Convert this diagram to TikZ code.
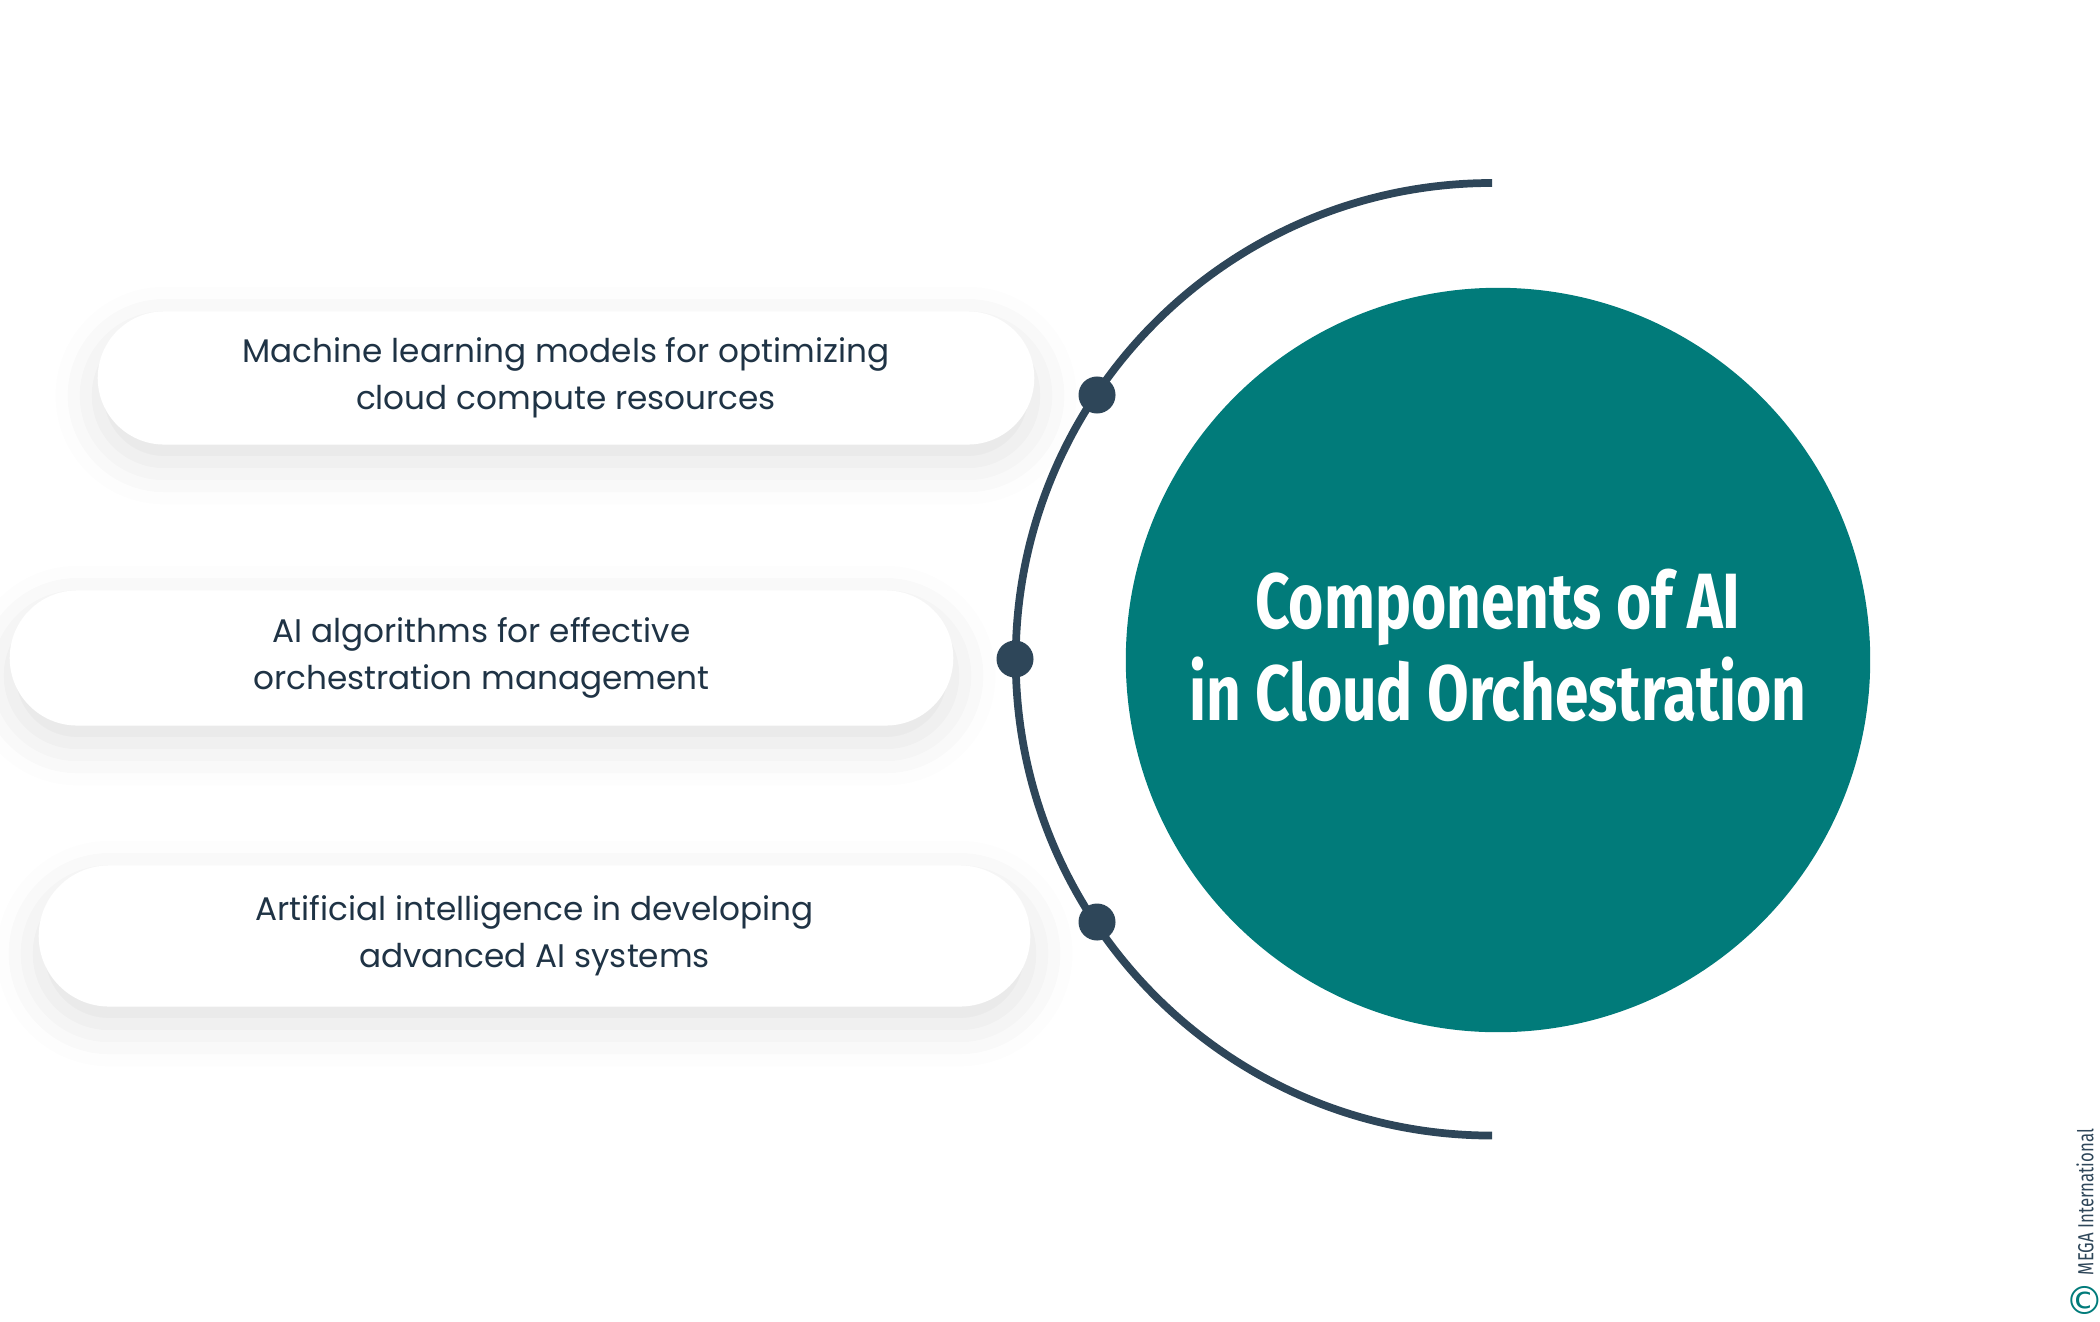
\documentclass[tikz,border=0pt]{standalone}
\usepackage{fontspec}
\setmainfont{Poppins}
\newfontfamily\titlefont[FakeStretch=0.77]{Fira Sans}
\newfontfamily\symfont{DejaVu Sans}
\usetikzlibrary{shapes.misc, shadows.blur}
\definecolor{tealfill}{HTML}{017B7A}
\definecolor{slate}{HTML}{2E4659}
\definecolor{inktext}{HTML}{1F3345}

\begin{document}
\begin{tikzpicture}[x=0.01cm, y=-0.01cm,
    pill/.style={rounded rectangle, fill=white, align=center, text=inktext, inner sep=0pt,
        font=\fontsize{9.3}{13.4}\selectfont,
        blur shadow={shadow xshift=0pt, shadow yshift=-5pt, shadow blur radius=12pt, shadow opacity=12}},
    knob/.style={circle, fill=slate, inner sep=0pt, minimum size=0.37cm}]
             \useasboundingbox (0,0) rectangle (2100,1321);
             \draw [slate, line width=2.2pt](1492,183) arc[start angle=90, end angle=270, radius=4.76cm];
             \node (hub) [circle, fill=tealfill, minimum size=7.44cm, inner sep=0pt] at (1498,660) {};
             \node (title) [text=white, align=center, font=\titlefont\bfseries\fontsize{22.3}{26.2}\selectfont] at (1498,645) {Components of AI\\in Cloud Orchestration};
             \node (ml) [pill, minimum width=9.36cm, minimum height=1.33cm] at (566,378) {Machine learning models for optimizing\\cloud compute resources};
             \node (algo) [pill, minimum width=9.43cm, minimum height=1.35cm] at (481.5,658) {AI algorithms for effective\\orchestration management};
             \node (dev) [pill, minimum width=9.91cm, minimum height=1.41cm] at (534.5,936) {Artificial intelligence in developing\\advanced AI systems};
             \node (k1) [knob] at (1097,395) {};
             \node (k2) [knob] at (1015,659) {};
             \node (k3) [knob] at (1097,922) {};
             \node (credit) [rotate=90, text=slate, font=\titlefont\fontsize{6.2}{7}\selectfont] at (2085,1202) {MEGA International};
             \node (copy) [text=tealfill, font=\symfont\fontsize{11}{12}\selectfont] at (2085,1300) {©};
\end{tikzpicture}
\end{document}
